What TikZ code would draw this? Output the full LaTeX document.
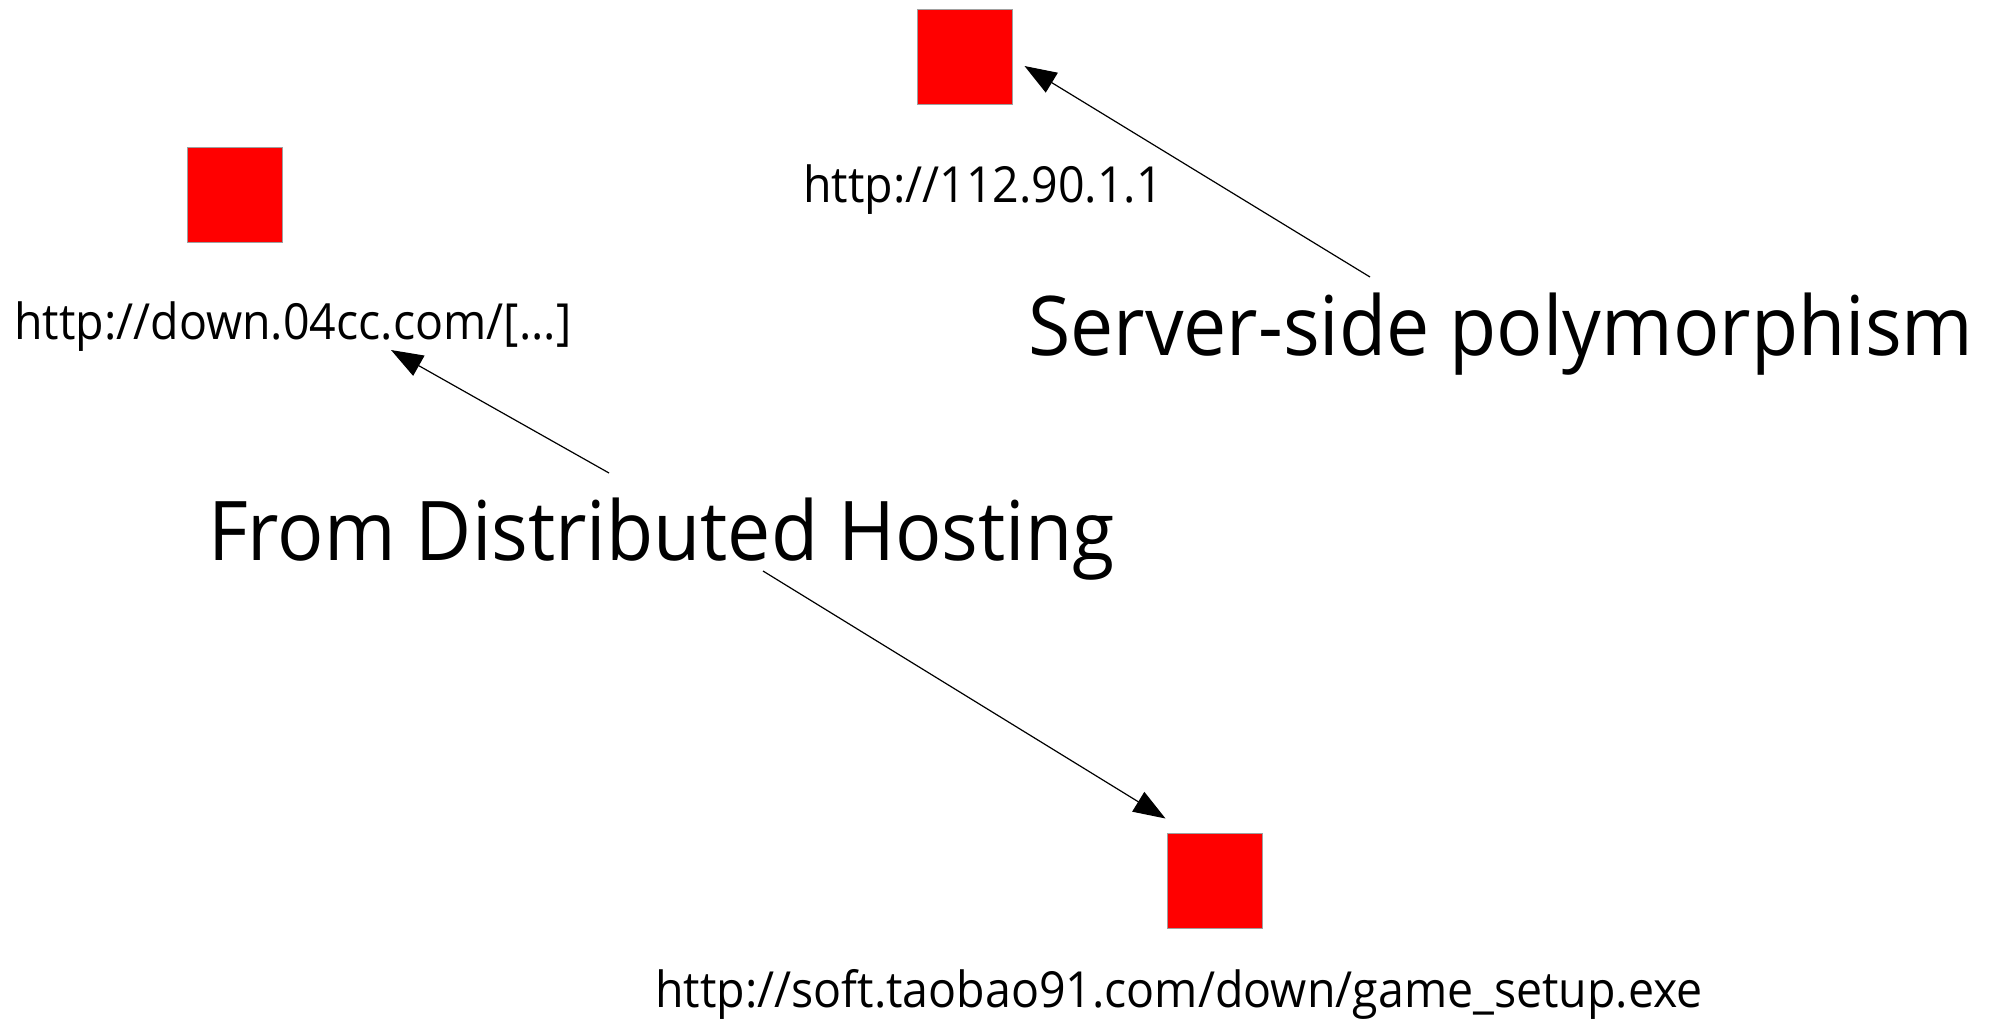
\documentclass[tikz,border=0pt]{standalone}
\usepackage{fontspec}
\usepackage{graphicx}
\setmainfont{Open Sans}
\usetikzlibrary{arrows.meta,calc}
\newcommand{\tallt}[1]{\scalebox{1}[1.07]{#1}}
\begin{document}
\begin{tikzpicture}[x=1pt,y=-1pt,
  sq/.style={draw=gray!75, line width=1.5pt, fill=red, minimum size=95pt, inner sep=0pt, outer sep=0pt},
  smalllab/.style={anchor=base west, inner sep=0pt, font=\fontsize{46.5}{55}\selectfont},
  biglab/.style={anchor=base west, inner sep=0pt, font=\fontsize{77}{92}\selectfont},
  arr/.style={-{Triangle[length=32pt,width=23pt]}, line width=1.2pt}]
\useasboundingbox (0,0) rectangle (1994,1018);
% squares
\node[sq] (sq1) at (965,57) {};
\node[sq] (sq2) at (235,195) {};
\node[sq] (sq3) at (1215,881) {};
% labels
\node[smalllab] (lab1) at (803,202) {\tallt{http://112.90.1.1}};
\node[smalllab] (lab2) at (14,339) {\tallt{http://down.04cc.com/[...]}};
\node[smalllab] (lab3) at (655,1007) {\tallt{http://soft.taobao91.com/down/game\_setup.exe}};
\node[biglab] (srv) at (1028,355) {\tallt{Server-side polymorphism}};
\node[biglab] (dist) at (208,560) {\tallt{From Distributed Hosting}};
% connector ends
\coordinate (srvtail) at ($(srv.base west)+(342,-78)$);
\coordinate (sq1tip) at ($(sq1.east)+(12,9)$);
\coordinate (disttail1) at ($(dist.base west)+(401,-87)$);
\coordinate (lab2tip) at ($(lab2.base west)+(377,11)$);
\coordinate (disttail2) at ($(dist.base west)+(555,11)$);
\coordinate (sq3tip) at ($(sq3.north west)+(-2,-15)$);
% connectors
\draw[arr] (srvtail) -- (sq1tip);
\draw[arr] (disttail1) -- (lab2tip);
\draw[arr] (disttail2) -- (sq3tip);
\end{tikzpicture}
\end{document}
